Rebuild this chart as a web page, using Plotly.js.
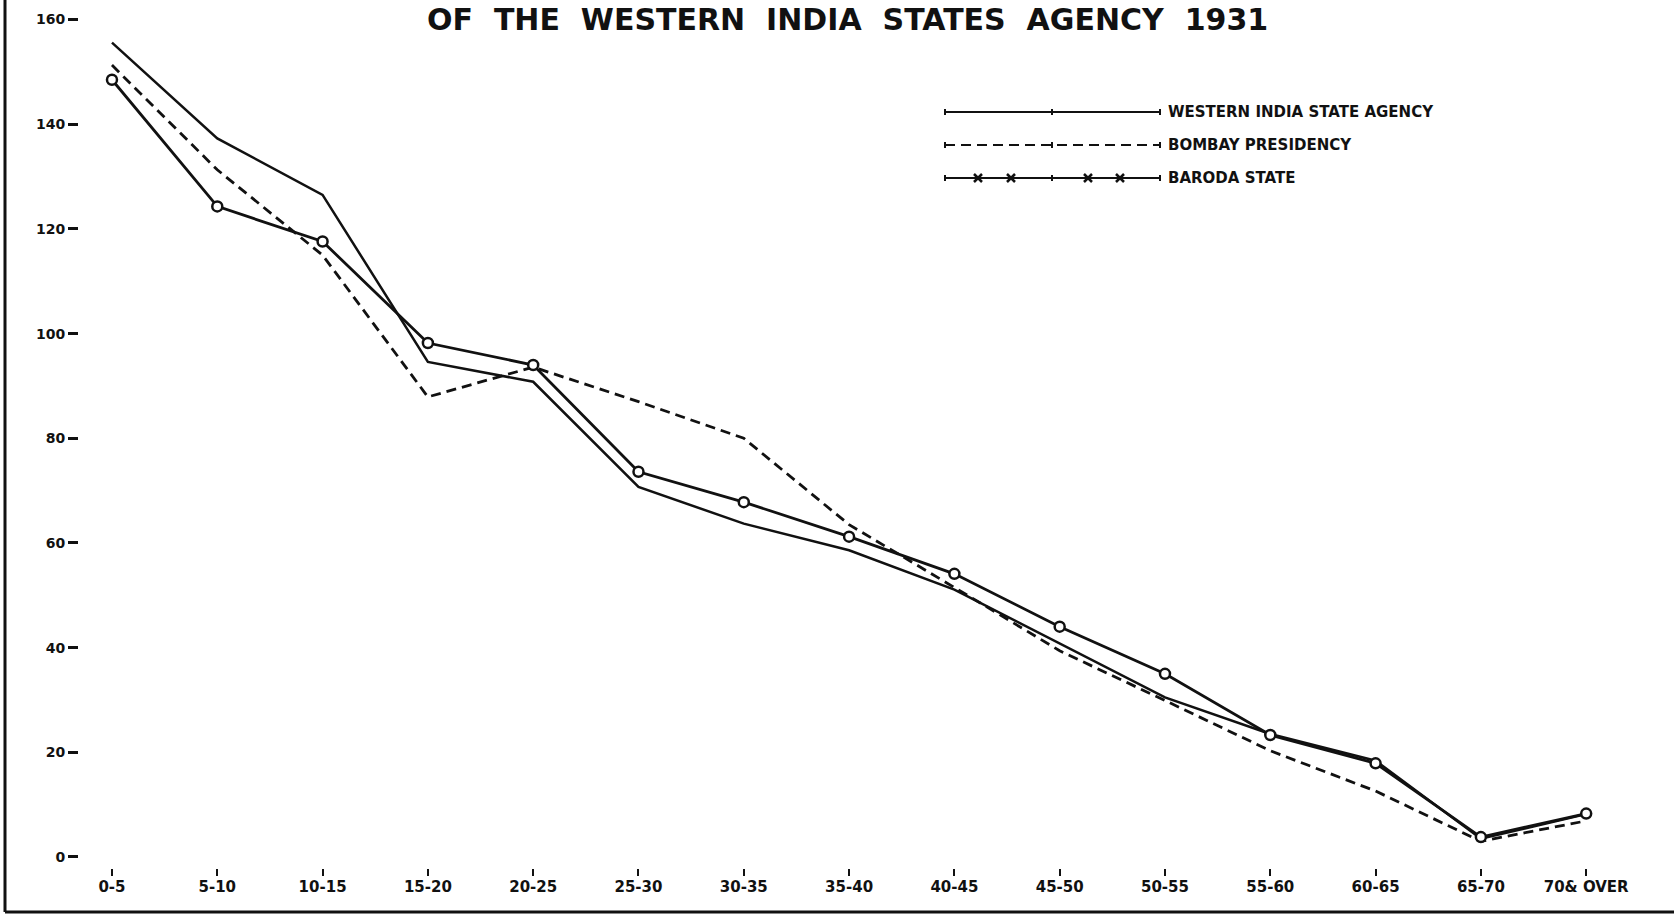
<!DOCTYPE html>
<html>
<head>
<meta charset="utf-8">
<script src="https://cdn.plot.ly/plotly-3.0.1.min.js"></script>
<style>html,body{margin:0;padding:0;background:#fff;}#chart{width:1674px;height:922px;}</style>
</head>
<body>
<div id="chart"></div>
<script>
// ---- data ----
const ageGroups = ['0-5','5-10','10-15','15-20','20-25','25-30','30-35','35-40','40-45','45-50','50-55','55-60','60-65','65-70','70& OVER'];
const westernIndiaStatesAgency = [155.6,137.3,126.5,94.6,90.8,70.7,63.7,58.6,51.1,40.8,30.5,23.5,18.4,3.5,8.2];
const bombayPresidency        = [151.3,131.3,115.0,87.9,93.6,87.0,80.0,63.5,51.5,39.4,29.9,20.3,12.6,3.0,6.9];
const barodaState             = [148.5,124.3,117.6,98.2,94.0,73.6,67.8,61.2,54.1,44.0,35.0,23.3,17.9,3.8,8.3];
const yTickValues = [0,20,40,60,80,100,120,140,160];
const seriesNames = ['WESTERN INDIA STATE AGENCY','BOMBAY PRESIDENCY','BARODA STATE'];
const chartTitle = 'OF THE WESTERN INDIA STATES AGENCY 1931';

// ---- layout helpers (pixel -> paper) ----
const W = 1674, H = 922, ML = 5, MB = 10;
const PW = W - ML, PH = H - MB;
const px = x => (x - ML) / PW;
const py = y => (PH - y) / PH;
const INK = '#111111';

const traces = [
  {x: ageGroups, y: westernIndiaStatesAgency, name: seriesNames[0], type: 'scatter', mode: 'lines',
   line: {color: INK, width: 2.5}},
  {x: ageGroups, y: bombayPresidency, name: seriesNames[1], type: 'scatter', mode: 'lines',
   line: {color: INK, width: 2.8, dash: '10px,6px'}},
  {x: ageGroups, y: barodaState, name: seriesNames[2], type: 'scatter', mode: 'lines+markers',
   line: {color: INK, width: 2.8},
   marker: {symbol: 'circle', size: 10, color: '#ffffff', line: {color: INK, width: 2.5}}}
];

// custom legend (drawn like the original's hand-drawn key)
const legendRows = [112, 145, 178];
const lx0 = 945, lx1 = 1160;
const shapes = [
  // frame: left and bottom rules
  {type: 'line', xref: 'paper', yref: 'paper', x0: 0, x1: 0, y0: 0, y1: 1, line: {color: INK, width: 3}},
  {type: 'line', xref: 'paper', yref: 'paper', x0: 0, x1: 1, y0: 0, y1: 0, line: {color: INK, width: 3}}
];
const dashes = ['solid', '10px,6px', 'solid'];
legendRows.forEach((ry, i) => {
  shapes.push({type: 'line', xref: 'paper', yref: 'paper', x0: px(lx0), x1: px(lx1), y0: py(ry), y1: py(ry),
    line: {color: INK, width: 2, dash: dashes[i]}});
  [lx0, 1052, lx1].forEach(tx => shapes.push({type: 'line', xref: 'paper', yref: 'paper',
    x0: px(tx), x1: px(tx), y0: py(ry - 3), y1: py(ry + 3), line: {color: INK, width: 2}}));
});
[978, 1011, 1088, 1120].forEach(cx => {
  const ry = legendRows[2], s = 4;
  shapes.push({type: 'path', xref: 'paper', yref: 'paper',
    path: `M ${px(cx - s)} ${py(ry - s)} L ${px(cx + s)} ${py(ry + s)} M ${px(cx - s)} ${py(ry + s)} L ${px(cx + s)} ${py(ry - s)}`,
    line: {color: INK, width: 2.5}});
});

// the original's title is hand-lettered with wide gaps between words
const titleShown = chartTitle.split(' ').join('\u00A0\u00A0');

const annotations = [
  {text: titleShown, xref: 'paper', yref: 'paper', x: px(847), y: py(19), xanchor: 'center', yanchor: 'middle',
   showarrow: false, font: {family: 'DejaVu Sans', size: 30, color: INK, weight: 'bold'}}
];
legendRows.forEach((ry, i) => annotations.push({
  text: seriesNames[i], xref: 'paper', yref: 'paper', x: px(1166), y: py(ry), xanchor: 'left', yanchor: 'middle',
  showarrow: false, font: {family: 'DejaVu Sans', size: 15, color: INK, weight: 'bold'}
}));

const layout = {
  width: W, height: H,
  margin: {l: ML, r: 0, t: 0, b: MB, pad: 0},
  paper_bgcolor: '#ffffff', plot_bgcolor: '#ffffff',
  showlegend: false,
  xaxis: {
    type: 'category', range: [-1.016, 14.834],
    anchor: 'free', position: py(876),
    showline: false, showgrid: false, zeroline: false,
    ticks: 'inside', ticklen: 7, tickwidth: 2, tickcolor: INK,
    tickfont: {family: 'DejaVu Sans', size: 15, color: INK, weight: 'bold'},
    fixedrange: true
  },
  yaxis: {
    range: [-10.51, 163.74],
    anchor: 'free', position: px(78), side: 'left',
    tickvals: yTickValues,
    showline: false, showgrid: false, zeroline: false,
    ticks: 'outside', ticklen: 10, tickwidth: 3, tickcolor: INK,
    tickfont: {family: 'DejaVu Sans', size: 14, color: INK, weight: 'bold'},
    fixedrange: true
  },
  shapes: shapes,
  annotations: annotations
};

Plotly.newPlot('chart', traces, layout, {displayModeBar: false, staticPlot: true});
</script>
</body>
</html>
